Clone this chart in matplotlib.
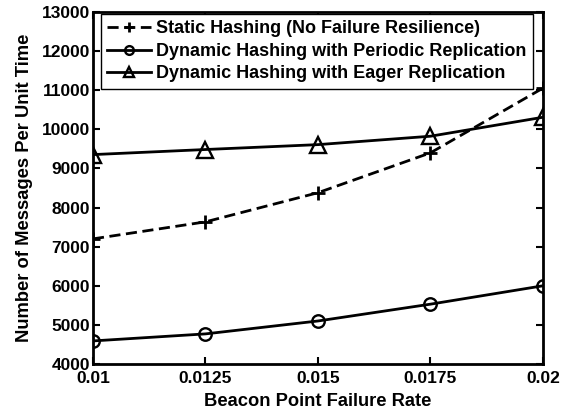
import numpy as np
import matplotlib.pyplot as plt

plt.rcParams['font.family'] = ['Liberation Sans', 'DejaVu Sans']
plt.rcParams['font.weight'] = 'bold'

rate = [0.01, 0.0125, 0.015, 0.0175, 0.02]
static = [7200, 7635, 8380, 9400, 11055]
periodic = [4590, 4770, 5100, 5530, 6000]
eager = [9355, 9485, 9610, 9825, 10310]

xticks = [0.01, 0.0125, 0.015, 0.0175, 0.02]
xticklabels = ['0.01', '0.0125', '0.015', '0.0175', '0.02']
yticks = np.arange(4000, 13001, 1000)

fig = plt.figure(figsize=(5.81, 4.16), dpi=100)
ax = fig.add_axes([0.160, 0.125, 0.7745, 0.846])

ax.plot(rate, static, 'k--+', lw=2, ms=9.5, mew=2, dashes=(4, 2),
        label='Static Hashing (No Failure Resilience)')
ax.plot(rate, periodic, 'k-o', lw=2, ms=9, mew=1.7, mfc='none',
        label='Dynamic Hashing with Periodic Replication')
ax.plot(rate, eager, 'k-^', lw=2, ms=11, mew=1.7, mfc='none',
        label='Dynamic Hashing with Eager Replication')

ax.set_xlim(0.01, 0.02)
ax.set_ylim(4000, 13000)
ax.set_xticks(xticks)
ax.set_xticklabels(xticklabels)
ax.set_yticks(yticks)
ax.tick_params(direction='in', top=True, right=True, length=5, width=1.5,
               labelsize=12.5, pad=2)
ax.tick_params(axis='x', pad=5)
for s in ax.spines.values():
    s.set_linewidth(2)

ax.set_xlabel('Beacon Point Failure Rate', fontsize=13.2, fontweight='bold', labelpad=5)
ax.set_ylabel('Number of Messages Per Unit Time', fontsize=13.2, fontweight='bold', labelpad=6)

leg = ax.legend(loc='upper left', bbox_to_anchor=(0.018, 0.994), borderaxespad=0,
                fontsize=13, handlelength=2.4, handletextpad=0.3,
                labelspacing=0.3, fancybox=False, framealpha=1,
                borderpad=0.35, markerscale=0.7)
leg.get_frame().set_edgecolor('black')
leg.get_frame().set_linewidth(1)

fig.savefig('out.png', dpi=100)
